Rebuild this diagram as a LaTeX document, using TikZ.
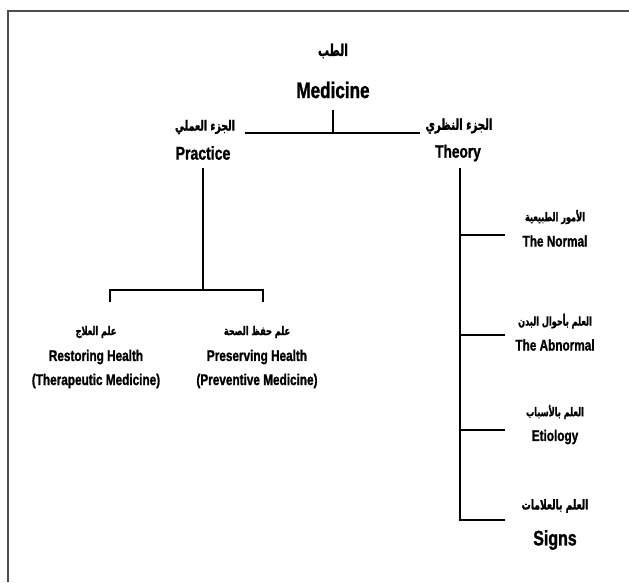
\documentclass[tikz,border=0pt]{standalone}
\usepackage{fontspec}
\setmainfont[FakeStretch=0.76,BoldFeatures={FakeBold=1.2}]{Liberation Sans}
\newfontfamily\arabicfont[Script=Arabic,FakeStretch=0.68,BoldFeatures={FakeBold=1.5}]{DejaVu Sans}
\TeXXeTstate=1
\begin{document}
\begin{tikzpicture}[x=1pt,y=-1pt,
  lbl/.style={align=center,inner sep=0pt,font=\bfseries\fontsize{15.5}{18}\selectfont},
  ar/.style={inner sep=0pt,font=\arabicfont\bfseries\fontsize{12}{14}\selectfont},
  conn/.style={line width=2.9pt,black},
  frame/.style={line width=1.3pt,black!70}]
\useasboundingbox (0,0) rectangle (629,582);
\draw[frame] (8,582) -- (8,11) -- (629,11);
% Medicine
\node[ar,font=\arabicfont\bfseries\fontsize{16}{18}\selectfont] (medA) at (333,51) {\beginR الطب\endR};
\node[lbl,font=\bfseries\fontsize{22.5}{26}\selectfont] (med) at (333,90) {Medicine};
% Practice / Theory
\node[ar,font=\arabicfont\bfseries\fontsize{14}{16}\selectfont] (praA) at (205,127) {\beginR الجزء العملي\endR};
\node[lbl,font=\bfseries\fontsize{18.5}{21}\selectfont] (pra) at (203,153) {Practice};
\node[ar,font=\arabicfont\bfseries\fontsize{15}{17}\selectfont] (theA) at (459,126) {\beginR الجزء النظري\endR};
\node[lbl,font=\bfseries\fontsize{18}{21}\selectfont] (the) at (458,153) {Theory};
\coordinate (mj) at (333,133);
\draw[conn] (333,110) coordinate (ms) -- (mj);
\draw[conn] (245,133) coordinate (pl) -- (420,133) coordinate (tr);
% Practice branch
\coordinate (pj) at (203,290);
\draw[conn] (203,168) coordinate (ps) -- (pj);
\draw[conn] (110,302) coordinate (rt) -- (110,290) -- (263,290) -- (263,302) coordinate (pt);
\node[ar] (resA) at (96,332) {\beginR علم العلاج\endR};
\node[lbl] (res) at (96,357) {Restoring Health};
\node[lbl] (resB) at (96,381) {(Therapeutic Medicine)};
\node[ar] (preA) at (257,332) {\beginR علم حفظ الصحة\endR};
\node[lbl] (pre) at (257,357) {Preserving Health};
\node[lbl] (preB) at (257,381) {(Preventive Medicine)};
% Theory branch
\draw[conn] (460,168) coordinate (ts) -- (460,521.45) coordinate (te);
\foreach \yy/\nm in {235/n1,335/n2,430/n3,520/n4}{
  \draw[conn] (458.55,\yy) -- (505,\yy) coordinate (\nm);
}
\node[ar] (norA) at (555,217) {\beginR الأمور الطبيعية\endR};
\node[lbl] (nor) at (555,241) {The Normal};
\node[ar] (abnA) at (555,321) {\beginR العلم بأحوال البدن\endR};
\node[lbl] (abn) at (555,345) {The Abnormal};
\node[ar] (etiA) at (555,412) {\beginR العلم بالأسباب\endR};
\node[lbl] (eti) at (555,437) {Etiology};
\node[ar,font=\arabicfont\bfseries\fontsize{13.5}{15}\selectfont] (sigA) at (555,506) {\beginR العلم بالعلامات\endR};
\node[lbl,font=\bfseries\fontsize{21}{24}\selectfont] (sig) at (555,540) {Signs};
\end{tikzpicture}
\end{document}
